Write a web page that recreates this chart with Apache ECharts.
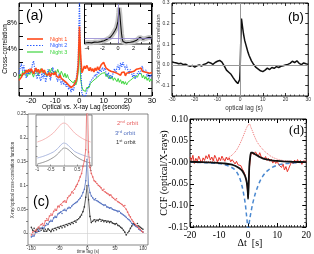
<!DOCTYPE html>
<html><head><meta charset="utf-8">
<script src="https://cdn.jsdelivr.net/npm/echarts@6/dist/echarts.min.js"></script>
<style>html,body{margin:0;padding:0;background:#fff}#c{width:314px;height:254px}</style>
</head><body><div id="c"></div>
<script>
// ---------- Panel (a): lags -25..30 step 0.5, values in % ----------
function seq(a,b,s){const r=[];for(let v=a;v<=b+1e-9;v+=s)r.push(+v.toFixed(3));return r;}
function zip(xs,ys){return xs.map((x,i)=>[x,ys[i]]);}
const lagA = seq(-25,30,0.5);
const night1 = [
-0.8,-1.0,-0.3,0.2,0.5,0.3,0.8,0.4,0.9,0.5,
1.0,0.6,0.2,0.7,1.1,0.5,0.9,0.3,0.6,1.0,
0.4,0.8,0.2,0.5,0.0,0.4,-0.2,0.3,0.6,0.1,
0.5,-0.1,0.2,-0.4,0.0,-0.5,-0.2,-0.8,-0.5,-1.1,
-0.9,-1.5,-1.3,-1.9,-2.1,-1.6,-1.8,-1.0,-0.3,1.5,
7.5,3.0,0.4,0.8,1.4,1.0,1.5,1.1,0.7,1.2,
0.6,1.0,0.5,1.1,0.7,1.3,0.8,1.2,1.6,1.4,
2.0,1.5,1.1,1.4,0.8,1.0,0.6,0.9,0.5,0.8,
0.4,0.7,0.2,0.5,0.0,0.4,0.1,0.5,-0.1,0.3,
0.0,0.4,0.1,0.5,0.2,0.6,0.4,0.9,0.6,1.0,
0.7,1.1,0.6,0.9,0.5,0.8,0.4,0.7,0.3,0.6,0.4];
const night2 = [
0.2,1.2,1.8,0.6,1.5,0.3,-0.4,0.8,0.1,1.0,
0.4,1.6,2.2,1.1,0.2,-0.6,0.5,-0.3,-0.9,0.3,
-0.5,0.6,-1.1,-0.2,0.9,0.2,-0.8,0.4,1.2,0.1,
0.6,-0.4,-1.0,0.2,-0.8,-1.4,-0.6,-1.5,-0.9,-1.8,
-1.2,-2.2,-1.6,-2.6,-2.0,-2.4,-1.5,-0.8,0.3,2.5,
11.5,2.0,-2.8,-3.2,-2.9,-3.3,-2.5,-2.0,-1.6,-1.0,
-1.3,-0.5,-0.8,0.1,-0.3,0.6,0.2,0.9,0.5,1.2,
0.7,1.1,0.3,-0.2,0.4,-0.6,0.0,-0.4,0.5,1.0,
0.3,1.2,1.6,0.8,1.9,1.3,2.0,1.4,0.9,1.6,
0.8,0.2,0.9,0.4,-0.3,0.3,-0.6,0.0,-0.2,0.6,
0.1,0.9,1.4,0.5,0.2,0.8,-0.2,0.4,-0.5,0.1,-0.3];
const night3 = [
-0.5,0.2,-0.3,0.6,0.0,0.8,0.3,-0.2,0.5,0.1,
0.7,0.2,-0.3,0.4,0.9,0.3,-0.1,0.6,1.0,0.4,
0.8,0.1,0.5,-0.2,0.3,0.9,0.4,1.1,0.6,0.2,
0.7,0.3,0.9,0.4,0.0,0.6,0.2,-0.3,0.3,-0.4,
0.1,-0.5,-0.2,-0.9,-0.6,-1.2,-0.8,-1.5,-0.9,0.5,
4.0,-0.6,-1.8,-2.3,-2.0,-2.5,-1.9,-1.6,-1.9,-1.3,
-1.5,-0.9,-1.2,-0.6,-0.9,-0.3,-0.6,0.1,-0.2,0.3,
0.0,0.4,-0.2,0.2,-0.5,-0.1,-0.6,-0.2,-0.8,-0.4,
-0.7,-1.0,-0.5,-1.1,-0.7,-1.3,-0.9,-1.4,-1.0,-1.5,
-1.1,-1.4,-0.8,-1.0,-0.5,-0.7,-0.2,0.1,-0.3,0.2,
-0.1,0.3,-0.4,0.0,-0.6,-0.2,-0.8,-0.4,-1.0,-0.6,-0.9];
const xTicksA = [-20,-10,0,10,20,30];
const yTicksA = [0,4,8];
// inset (a)
const lagAi = [-4.2,-3.8,-3.4,-3.0,-2.6,-2.2,-1.8,-1.4,-1.0,-0.7,-0.4,-0.2,0.0,0.1,0.15,0.25,0.35,0.45,0.55,0.65,0.8,1.0,1.3,1.6,2.0,2.4,2.8,3.2,3.6,4.0,4.3];
const ccfAi = [1.0,1.5,1.2,2.0,1.8,2.5,3.5,5.0,7.0,10.0,14.0,17.0,24.0,33.0,38.0,30.0,20.0,11.0,5.0,2.5,1.0,1.2,1.5,1.8,2.5,4.0,7.0,5.0,6.0,7.0,6.5];
const xTicksAi = [-4,-2,0,2,4];
// ---------- Panel (b) ----------
const lagB = [-30,-29,-28,-27,-26,-25,-24,-23,-22,-21,-20,-19,-18,-17,-16,-15,-14,-13,-12,-11,-10,-9,-8,-7,-6,-5,-4,-3,-2,-1.5,-1,-0.5,-0.2,0,0.3,0.6,1,1.5,2,2.5,3,3.5,4,5,6,7,8,9,10,11,12,13,14,15,16,17,18,19,20,21,22,23,24,25,26,27,28,29,30];
const ccfB = [0.015,0.012,0.01,0.006,0.008,0.002,0.004,-0.003,-0.006,-0.002,-0.01,-0.004,0.0,-0.005,0.003,0.006,0.014,0.01,0.003,0.012,0.018,0.022,0.014,-0.004,-0.025,-0.035,-0.045,-0.062,-0.078,-0.085,-0.09,-0.095,-0.07,-0.03,0.12,0.225,0.19,0.15,0.12,0.1,0.08,0.06,0.045,0.02,0.002,-0.012,-0.02,-0.028,-0.032,-0.025,-0.015,-0.022,-0.012,-0.016,-0.008,-0.012,-0.006,-0.004,0.0,0.003,0.008,0.018,0.012,0.02,0.008,0.002,0.01,0.006,0.003];
const yTicksB = [-0.1,0,0.1,0.2,0.3];
// ---------- Panel (c): lags -100..100 step 2.5 ----------
const lagC = seq(-100,100,2.5);
const orbit2 = [
-0.004,0.002,-0.002,0.006,0.004,0.012,0.009,0.018,0.02,0.016,
0.026,0.03,0.027,0.036,0.04,0.038,0.046,0.05,0.048,0.056,
0.055,0.06,0.058,0.066,0.068,0.065,0.074,0.078,0.08,0.086,
0.084,0.092,0.098,0.102,0.11,0.118,0.125,0.14,0.152,0.175,
0.30,0.17,0.138,0.125,0.118,0.11,0.108,0.104,0.1,0.098,
0.095,0.09,0.092,0.086,0.084,0.082,0.079,0.08,0.075,0.073,
0.07,0.072,0.066,0.064,0.062,0.06,0.057,0.058,0.05,0.044,
0.038,0.034,0.028,0.024,0.02,0.016,0.014,0.01,0.008,0.004,
0.002];
const orbit3 = [
-0.008,-0.004,-0.006,0.0,0.002,0.006,0.004,0.01,0.012,0.01,
0.016,0.02,0.018,0.024,0.027,0.025,0.032,0.035,0.033,0.04,
0.042,0.044,0.041,0.048,0.05,0.047,0.052,0.054,0.053,0.057,
0.06,0.062,0.064,0.066,0.07,0.073,0.078,0.085,0.092,0.11,
0.155,0.1,0.085,0.078,0.074,0.07,0.072,0.068,0.066,0.064,
0.062,0.06,0.058,0.059,0.055,0.054,0.052,0.053,0.05,0.049,
0.048,0.047,0.045,0.046,0.042,0.04,0.038,0.036,0.033,0.03,
0.028,0.025,0.02,0.018,0.016,0.014,0.012,0.008,0.006,0.004,
0.002];
const orbit1 = [
0.012,0.006,0.01,0.002,0.008,0.004,0.01,0.006,0.01,0.004,
0.008,0.004,0.009,0.006,0.003,0.008,0.005,0.01,0.007,0.012,
0.01,0.014,0.011,0.016,0.013,0.018,0.016,0.02,0.018,0.022,
0.02,0.025,0.023,0.028,0.03,0.034,0.038,0.045,0.055,0.075,
0.1,0.07,0.035,0.022,0.025,0.028,0.024,0.027,0.026,0.029,
0.025,0.027,0.024,0.026,0.023,0.025,0.022,0.024,0.021,0.02,
0.018,0.02,0.016,0.015,0.012,0.01,0.006,0.002,-0.004,0.0,
0.004,0.01,0.015,0.02,0.018,0.016,0.02,0.015,0.012,0.01,
0.008];
const xTicksC = [-100,-50,0,50,100];
const yTicksC = [0,0.05,0.1,0.15,0.2,0.25];
// inset (c)
const lagCi = [-1,-0.8,-0.6,-0.4,-0.3,-0.2,-0.1,0,0.1,0.2,0.3,0.4,0.6,0.8,1];
const orbit2i = [24,26,29,33,36,39,42,43,42,39,36,33,29,26,24];
const orbit3i = [8,9.5,11.5,14,16,18.5,21.5,23,22,19.5,17,14.5,12,10,8.5];
const orbit1i = [2,3.5,5.5,8.5,10.5,13,16,18,17.5,15.5,13,10.5,7,4.5,3];
const xTicksCi = [-1,-0.5,0,0.5,1];
// ---------- Panel (d) ----------
const lagD = seq(-20,20,0.5);
const ccfD = [
0.012,0.004,0.016,-0.003,0.009,0.002,0.014,0.006,-0.002,0.01,
0.004,0.015,0.008,0.018,0.005,0.012,0.003,0.016,0.009,0.001,
0.011,0.004,0.014,0.007,0.002,0.012,0.005,0.01,0.001,0.006,
0.003,-0.004,0.002,-0.006,-0.01,-0.008,-0.016,-0.022,-0.03,-0.048,
-0.08,-0.01,0.022,0.026,0.018,0.024,0.02,0.014,0.022,0.012,
0.016,0.008,0.013,0.004,0.009,0.002,0.007,-0.002,0.004,-0.003,
0.003,-0.006,-0.002,-0.012,-0.004,-0.018,-0.01,-0.022,-0.014,-0.006,
0.002,-0.004,0.005,-0.002,0.006,-0.001,0.004,-0.005,0.003,0.0,
0.002];
const lagModel = [-20,-16,-12,-10,-8,-6,-5,-4,-3,-2,-1.5,-1,-0.6,-0.3,-0.1,0,0.2,0.4,0.7,1,1.5,2,3,4,5,6,8,10,12,15,20];
const modelD = [0.001,0.0,-0.001,-0.002,-0.003,-0.005,-0.007,-0.01,-0.014,-0.02,-0.026,-0.033,-0.042,-0.055,-0.07,-0.085,-0.05,-0.01,0.012,0.022,0.022,0.02,0.016,0.012,0.009,0.007,0.004,0.003,0.002,0.001,0.0];
const lagNeg = [-20,-15,-10,-8,-6,-5,-4,-3,-2.5,-2,-1.5,-1,-0.6,-0.3,0,0.3,0.6,1,1.5,2,2.5,3,4,5,6,7,8,10,12,15,20];
const negD = [0,-0.001,-0.003,-0.006,-0.011,-0.015,-0.022,-0.035,-0.045,-0.058,-0.075,-0.095,-0.12,-0.14,-0.17,-0.145,-0.13,-0.115,-0.098,-0.084,-0.072,-0.062,-0.045,-0.033,-0.024,-0.018,-0.013,-0.007,-0.004,-0.002,0];
const lagPos = [-20,-15,-12,-10,-8,-7,-6,-5,-4,-3,-2,-1,-0.5,0,0.5,1,1.5,2,3,4,5,6,7,8,10,12,15,20];
const posD = [0.0,0.001,0.002,0.004,0.007,0.01,0.014,0.02,0.028,0.04,0.055,0.072,0.08,0.086,0.088,0.08,0.072,0.063,0.048,0.038,0.03,0.023,0.018,0.013,0.007,0.004,0.002,0.0];

// ---------- chart ----------
const SANS = 'Liberation Sans, Arial, Helvetica, sans-serif';
const SERIF = 'Liberation Serif, DejaVu Serif, serif';
const chart = echarts.init(document.getElementById('c'));

function baseAxis(extra){
  return Object.assign({type:'value', axisLine:{show:false, onZero:false}, splitLine:{show:false},
    axisTick:{inside:true, length:3, lineStyle:{color:'#000', width:0.8}},
    axisLabel:{show:false}}, extra);
}
const grids = [
  {left:19, top:3, width:133, height:93},      // 0 a
  {left:84.5, top:4, width:67, height:40},     // 1 a inset
  {left:172, top:3, width:138, height:93},     // 2 b
  {left:28, top:114, width:120, height:131},   // 3 c
  {left:36, top:115, width:56, height:51},     // 4 c inset
  {left:190, top:119, width:120, height:108}   // 5 d
].map((g,i)=>Object.assign({show:true, borderColor:(i===3||i===4)?'#555':'#000', borderWidth:(i===3||i===4)?0.7:1, backgroundColor:(i===1||i===4)?'#fff':'transparent', containLabel:false}, g));

const xAxes = [
  baseAxis({gridIndex:0, min:-25, max:30, axisTick:{inside:true,length:4,customValues:[-25,-20,-15,-10,-5,0,5,10,15,20,25,30],lineStyle:{color:'#000'}},
    axisLabel:{show:true, customValues:xTicksA, fontSize:7.5, color:'#000', margin:0.5, fontFamily:SANS, showMaxLabel:true}}),
  baseAxis({gridIndex:1, min:-4.3, max:4.3, axisTick:{inside:true,length:2,customValues:[-4,-3,-2,-1,0,1,2,3,4],lineStyle:{color:'#000',width:0.7}},
    axisLabel:{show:true, customValues:xTicksAi, fontSize:5.5, color:'#000', margin:1.5, fontFamily:SANS}}),
  baseAxis({gridIndex:2, min:-30, max:30, interval:10, minorTick:{show:true, splitNumber:5, length:1.5, lineStyle:{color:'#000',width:0.6}},
    axisLabel:{show:true, fontSize:5, color:'#333', margin:1.5, fontFamily:SANS}}),
  baseAxis({gridIndex:3, min:-106, max:109, axisTick:{inside:false,length:2,customValues:xTicksC,lineStyle:{color:'#555',width:0.7}},
    axisLabel:{show:true, customValues:xTicksC, fontSize:4.5, color:'#333', margin:1, fontFamily:SANS}}),
  baseAxis({gridIndex:4, min:-1.05, max:1.05, axisTick:{inside:true,length:1.5,customValues:xTicksCi,lineStyle:{color:'#555',width:0.6}},
    axisLabel:{show:true, customValues:xTicksCi, fontSize:4.5, color:'#333', margin:1.5, fontFamily:SANS}}),
  baseAxis({gridIndex:5, min:-20, max:20, interval:10, axisTick:{inside:true,length:4,lineStyle:{color:'#000'}},
    minorTick:{show:true, splitNumber:10, length:2, lineStyle:{color:'#000',width:0.7}},
    axisLabel:{show:true, fontSize:9.5, color:'#000', margin:3, fontFamily:SERIF}}),
  baseAxis({gridIndex:5, position:'top', min:-20, max:20, interval:10, axisTick:{inside:true,length:4,lineStyle:{color:'#000'}},
    minorTick:{show:true, splitNumber:10, length:2, lineStyle:{color:'#000',width:0.7}}}),
  baseAxis({gridIndex:0, position:'top', min:-25, max:30, interval:5, axisTick:{inside:true,length:4,lineStyle:{color:'#000'}}}),
  baseAxis({gridIndex:2, position:'top', min:-30, max:30, interval:10, minorTick:{show:true, splitNumber:5, length:1.5, lineStyle:{color:'#000',width:0.6}}})
];
const yAxes = [
  baseAxis({gridIndex:0, min:-3.2, max:11.1, axisTick:{inside:true,length:4,customValues:[-2,0,2,4,6,8,10],lineStyle:{color:'#000'}},
    axisLabel:{show:true, customValues:yTicksA, fontSize:7, color:'#000', margin:2, fontFamily:SANS, formatter:v=>v===0?'0':v+'%'}}),
  baseAxis({gridIndex:1, min:0, max:42, axisTick:{inside:true,length:2,customValues:[6,12,18,24,30,36],lineStyle:{color:'#000',width:0.7}}}),
  baseAxis({gridIndex:2, min:-0.15, max:0.3, interval:0.05,
    axisTick:{inside:true,length:3,lineStyle:{color:'#000',width:0.8}},
    axisLabel:{show:true, customValues:yTicksB, fontSize:5, color:'#333', margin:2.5, fontFamily:SANS,
      formatter:v=>(Math.round(v*10)/10).toFixed(1)}}),
  baseAxis({gridIndex:3, min:-0.025, max:0.25, interval:0.025,
    axisTick:{inside:false,length:2,lineStyle:{color:'#555',width:0.7}},
    axisLabel:{show:true, customValues:yTicksC, fontSize:4.5, color:'#333', margin:2, fontFamily:SANS,
      formatter:v=>String(+v.toFixed(2))}}),
  baseAxis({gridIndex:4, min:0, max:51, axisTick:{inside:true,length:1.5,customValues:[10,20,30,40],lineStyle:{color:'#555',width:0.6}}}),
  baseAxis({gridIndex:5, min:-0.15, max:0.10, interval:0.05, axisTick:{inside:true,length:4,lineStyle:{color:'#000'}},
    minorTick:{show:true, splitNumber:5, length:2, lineStyle:{color:'#000',width:0.7}},
    axisLabel:{show:true, fontSize:9.5, color:'#000', margin:2, fontFamily:SERIF,
      formatter:v=>{const r=Math.round(v*100)/100; return r===0?'-0.00':r.toFixed(2);}}}),
  baseAxis({gridIndex:5, position:'right', min:-0.15, max:0.10, interval:0.05, axisTick:{inside:true,length:4,lineStyle:{color:'#000'}},
    minorTick:{show:true, splitNumber:5, length:2, lineStyle:{color:'#000',width:0.7}}}),
  baseAxis({gridIndex:0, position:'right', min:-3.2, max:11.1, axisTick:{inside:true,length:4,customValues:[-2,0,2,4,6,8,10],lineStyle:{color:'#000'}}}),
  baseAxis({gridIndex:2, position:'right', min:-0.15, max:0.3, interval:0.05, axisTick:{inside:true,length:3,lineStyle:{color:'#000',width:0.8}}})
];

function line(xi, yi, data, color, width, type, extra){
  return Object.assign({type:'line', xAxisIndex:xi, yAxisIndex:yi, data, symbol:'none', animation:false,
    lineStyle:{color, width, type:type||'solid'}, clip:true, silent:true}, extra||{});
}
function ml(color, data, w){
  return {silent:true, symbol:'none', label:{show:false}, animation:false,
    lineStyle:{color, width:w||0.8, type:'solid'}, data};
}
const series = [
  // (a)
  line(0,0,zip(lagA,night3),'#3ed63e',1,'solid',{z:2}),
  line(0,0,zip(lagA,night2),'#2a5cff',1.2,'dotted',{z:3}),
  line(0,0,zip(lagA,night1),'#ff4a1a',1.6,'solid',{z:4}),
  // (a) inset
  line(1,1,zip(lagAi,ccfAi),'#c4c4c4',5,'solid',{z:2, markLine:ml('#8f84cf',[{yAxis:5.7},{xAxis:0}],0.8)}),
  line(1,1,zip(lagAi,ccfAi),'#111',1.1,'solid',{z:3}),
  // (b)
  line(2,2,zip(lagB,ccfB),'#111',1.5,'solid',{z:3, markLine:ml('#999',[{xAxis:0},{yAxis:0}],1)}),
  // (c)
  line(3,3,zip(lagC,orbit1),'#333',0.8,'solid',{z:3, symbol:'circle', symbolSize:1.6, itemStyle:{color:'#333'},
     markLine:ml('#ccc',[{xAxis:0},{yAxis:0}],0.6)}),
  line(3,3,zip(lagC,orbit3),'#5572c0',0.8,'solid',{z:3, symbol:'circle', symbolSize:1.6, itemStyle:{color:'#5572c0'}}),
  line(3,3,zip(lagC,orbit2),'#e86464',0.8,'solid',{z:4, symbol:'circle', symbolSize:1.6, itemStyle:{color:'#e86464'}}),
  // (c) inset
  line(4,4,zip(lagCi,orbit2i),'#f08a8a',0.6,'solid',{z:3, smooth:0.3, markLine:ml('#ccc',[{xAxis:0}],0.5)}),
  line(4,4,zip(lagCi,orbit3i),'#7a8fcc',0.6,'solid',{z:3, smooth:0.3}),
  line(4,4,zip(lagCi,orbit1i),'#555',0.6,'solid',{z:3, smooth:0.3}),
  // (d)
  line(5,5,zip(lagPos,posD),'#f07070',1,'dotted',{z:2, smooth:0.3}),
  line(5,5,zip(lagD,ccfD),'#e8342a',1,'solid',{z:3}),
  line(5,5,zip(lagNeg,negD),'#4a88d0',1.5,[4,3],{z:4, smooth:0.3}),
  line(5,5,zip(lagModel,modelD),'#111',1.8,'solid',{z:5, smooth:0.2})
];

function txt(x,y,text,size,color,family,extra){
  return Object.assign({type:'text', x, y, silent:true,
    style:{text, fontSize:size, fill:color||'#000', fontFamily:family||SANS, textAlign:'left', textVerticalAlign:'middle'}}, extra||{});
}
function vtxt(x,y,text,size,color,family){
  return {type:'text', x, y, rotation:Math.PI/2, silent:true,
    style:{text, fontSize:size, fill:color||'#000', fontFamily:family||SANS, textAlign:'center', textVerticalAlign:'middle'}};
}
function ctxt(x,y,text,size,color,family){
  return {type:'text', x, y, silent:true,
    style:{text, fontSize:size, fill:color||'#000', fontFamily:family||SANS, textAlign:'center', textVerticalAlign:'middle'}};
}
function orbitLabel(x,y,n,sup,color){
  return {type:'text', x, y, silent:true, z:100,
    style:{text:'{a|'+n+'}{s|'+sup+'}{a| orbit}', fontFamily:SANS, fill:color, textVerticalAlign:'middle',
      rich:{a:{fontSize:6, fill:color, lineHeight:7, fontFamily:SANS}, s:{fontSize:4, fill:color, verticalAlign:'top', lineHeight:7, fontFamily:SANS}}}};
}
const legA = [['Night 1','#ff4a1a','solid',1.6,39],['Night 2','#2a5cff','dotted',1.2,45.5],['Night 3','#3ed63e','solid',1.2,52]];
const graphic = [
  txt(26,16.5,'(a)',14,'#000'),
  txt(288,17,'(b)',13,'#000'),
  txt(33,202,'(c)',14,'#000'),
  txt(289,131,'(d)',13,'#000',SERIF),
  vtxt(5,49,'Cross-correlation',6.5,'#000'),
  ctxt(86,107.5,'Optical vs. X-ray Lag (seconds)',6.3,'#000'),
  vtxt(158.5,49,'X-optical cross-correlation',6,'#333'),
  ctxt(244,108.5,'optical lag (s)',6.3,'#333'),
  vtxt(13,180,'X-ray/optical cross-correlation function',4.5,'#333'),
  ctxt(88,251.5,'time lag (s)',4.5,'#333'),
  vtxt(164,173,'CCF (optical/X-rays)',10,'#000',SERIF),
  ctxt(250,243,'\u0394t  [s]',10,'#000',SERIF),
  orbitLabel(117,123,'2','nd','#e86464'),
  orbitLabel(115,133,'3','rd','#5572c0'),
  orbitLabel(116,142,'1','st','#333')
];
legA.forEach(l=>{
  graphic.push({type:'line', silent:true, shape:{x1:27,y1:l[4],x2:43,y2:l[4]}, style:{stroke:l[1], lineWidth:l[3], lineDash:l[2]==='dotted'?[1.5,1.5]:null}});
  graphic.push(txt(50,l[4],l[0],5.5,l[1]));
});

chart.setOption({animation:false, backgroundColor:'#fff', grid:grids, xAxis:xAxes, yAxis:yAxes, series, graphic});
</script></body></html>
